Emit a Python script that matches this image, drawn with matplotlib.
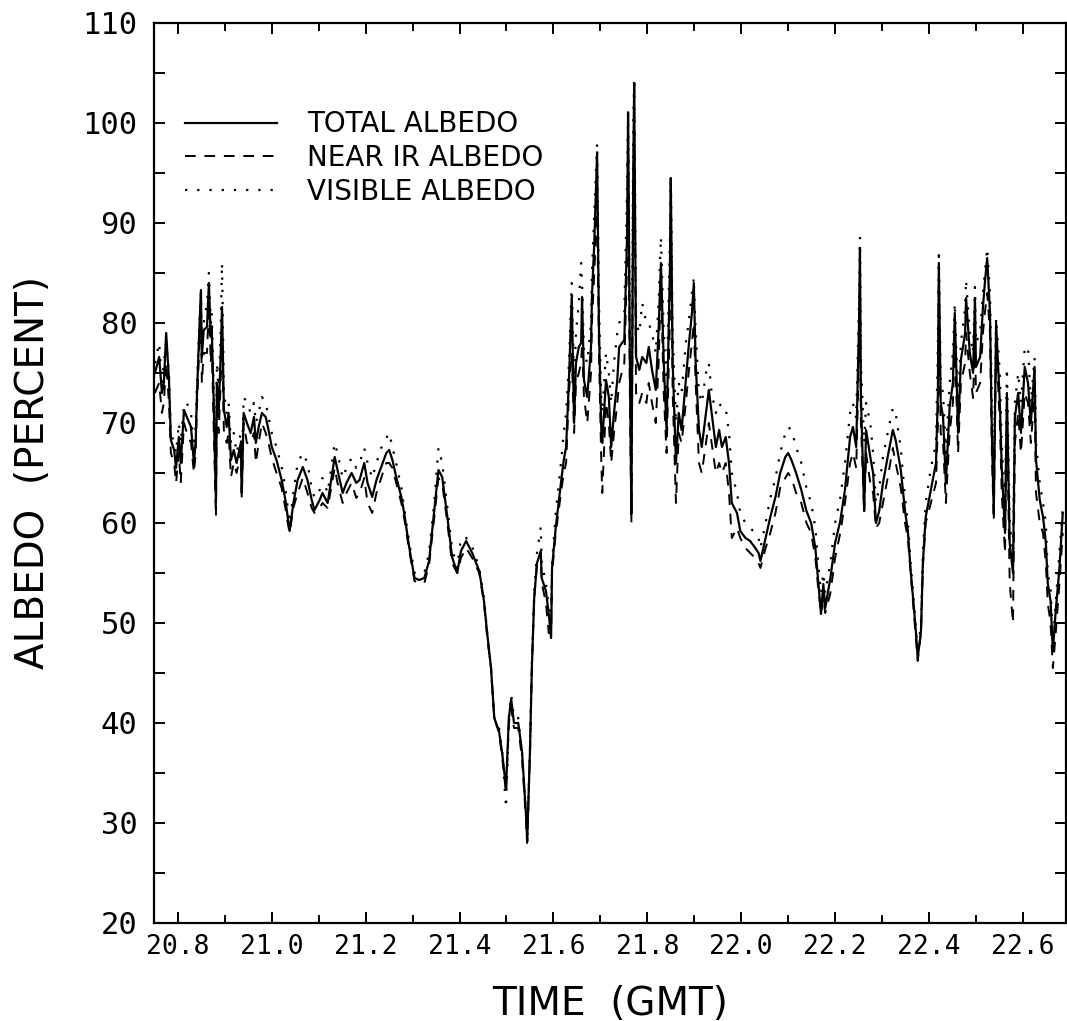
import matplotlib
matplotlib.use("Agg")
import matplotlib.pyplot as plt
from matplotlib.ticker import MultipleLocator, FormatStrFormatter

# Time (GMT, decimal hours) and albedo (percent) along the flight track
time_gmt = [
    20.751, 20.760, 20.766, 20.770, 20.775, 20.781, 20.785, 20.792, 20.796, 20.802,
    20.806, 20.813, 20.819, 20.828, 20.834, 20.838, 20.840, 20.845, 20.849, 20.851,
    20.855, 20.862, 20.866, 20.870, 20.872, 20.876, 20.881, 20.883, 20.887, 20.891,
    20.894, 20.898, 20.904, 20.908, 20.913, 20.919, 20.925, 20.934, 20.936, 20.940,
    20.947, 20.955, 20.962, 20.966, 20.972, 20.979, 20.987, 20.993, 21.000, 21.010,
    21.021, 21.029, 21.034, 21.038, 21.046, 21.055, 21.066, 21.076, 21.085, 21.091,
    21.102, 21.108, 21.119, 21.134, 21.140, 21.151, 21.159, 21.170, 21.180, 21.187,
    21.197, 21.204, 21.214, 21.223, 21.233, 21.244, 21.250, 21.257, 21.265, 21.276,
    21.282, 21.293, 21.304, 21.314, 21.325, 21.335, 21.346, 21.355, 21.363, 21.374,
    21.384, 21.395, 21.403, 21.414, 21.427, 21.442, 21.452, 21.459, 21.467, 21.474,
    21.484, 21.491, 21.499, 21.505, 21.510, 21.516, 21.525, 21.533, 21.542, 21.544,
    21.550, 21.554, 21.559, 21.565, 21.573, 21.575, 21.584, 21.590, 21.595, 21.597,
    21.605, 21.616, 21.622, 21.627, 21.633, 21.639, 21.644, 21.648, 21.654, 21.659,
    21.661, 21.665, 21.672, 21.680, 21.682, 21.687, 21.693, 21.697, 21.702, 21.704,
    21.712, 21.718, 21.723, 21.729, 21.736, 21.740, 21.751, 21.757, 21.759, 21.763,
    21.766, 21.770, 21.772, 21.776, 21.783, 21.789, 21.798, 21.803, 21.810, 21.818,
    21.824, 21.829, 21.835, 21.841, 21.848, 21.850, 21.854, 21.861, 21.867, 21.873,
    21.882, 21.888, 21.895, 21.899, 21.903, 21.910, 21.916, 21.925, 21.931, 21.937,
    21.946, 21.953, 21.959, 21.967, 21.974, 21.980, 21.991, 21.998, 22.009, 22.019,
    22.030, 22.037, 22.041, 22.052, 22.062, 22.073, 22.083, 22.094, 22.100, 22.107,
    22.117, 22.128, 22.139, 22.149, 22.158, 22.164, 22.170, 22.175, 22.179, 22.190,
    22.200, 22.211, 22.221, 22.232, 22.238, 22.245, 22.251, 22.253, 22.255, 22.262,
    22.266, 22.275, 22.281, 22.287, 22.294, 22.302, 22.312, 22.323, 22.329, 22.340,
    22.349, 22.355, 22.361, 22.368, 22.372, 22.376, 22.383, 22.387, 22.393, 22.404,
    22.415, 22.419, 22.421, 22.425, 22.430, 22.436, 22.444, 22.451, 22.455, 22.462,
    22.468, 22.477, 22.479, 22.487, 22.494, 22.498, 22.500, 22.509, 22.515, 22.519,
    22.524, 22.530, 22.534, 22.538, 22.543, 22.551, 22.555, 22.562, 22.566, 22.572,
    22.579, 22.583, 22.590, 22.596, 22.604, 22.611, 22.617, 22.625, 22.628, 22.636,
    22.643, 22.649, 22.653, 22.659, 22.664, 22.670, 22.678, 22.685,
]

total_albedo = [
    75.0, 76.6, 73.0, 74.0, 79.0, 74.3, 68.3, 67.3, 65.5, 68.6,
    66.0, 71.3, 70.6, 69.6, 66.0, 68.3, 72.0, 78.6, 83.3, 76.6,
    79.3, 79.6, 84.0, 78.6, 79.6, 72.6, 62.0, 74.0, 71.3, 76.6,
    81.6, 71.3, 69.6, 71.0, 66.3, 67.3, 66.0, 68.0, 63.0, 71.0,
    70.0, 69.0, 70.6, 68.0, 69.6, 71.0, 70.6, 69.3, 67.6, 66.3,
    64.3, 62.3, 60.6, 59.2, 62.0, 64.3, 65.6, 64.3, 62.3, 61.3,
    62.3, 63.0, 62.0, 66.6, 65.3, 63.0, 64.0, 65.0, 64.0, 64.3,
    66.0, 64.0, 62.6, 64.3, 65.6, 67.0, 67.3, 66.3, 64.6, 62.6,
    61.0, 57.5, 54.5, 54.3, 54.5, 56.2, 61.2, 65.3, 64.6, 60.6,
    56.6, 55.0, 57.2, 58.2, 57.0, 55.2, 52.2, 48.9, 45.5, 40.5,
    39.2, 36.9, 33.5, 40.5, 42.4, 40.0, 40.0, 37.2, 30.5, 28.2,
    37.2, 45.5, 52.5, 56.0, 57.2, 54.5, 53.2, 50.9, 48.5, 55.5,
    59.6, 64.0, 66.3, 67.6, 74.3, 82.6, 70.0, 76.0, 77.6, 78.0,
    82.6, 74.3, 72.6, 77.6, 82.6, 88.0, 97.0, 79.3, 69.3, 68.0,
    74.3, 72.6, 67.6, 71.0, 74.3, 77.6, 78.3, 89.0, 101.0, 75.0,
    61.0, 95.0, 104.0, 76.6, 75.3, 76.6, 76.0, 77.6, 75.3, 73.3,
    79.3, 86.0, 76.0, 69.3, 85.0, 94.5, 76.0, 66.0, 71.0, 69.3,
    74.3, 77.6, 81.0, 84.0, 76.0, 69.3, 67.6, 71.0, 73.3, 71.0,
    67.6, 69.3, 67.6, 68.6, 66.0, 62.0, 61.0, 59.2, 58.5, 58.2,
    57.5, 57.0, 56.2, 58.5, 60.6, 62.6, 65.0, 66.6, 67.0, 66.3,
    65.0, 63.3, 61.2, 60.0, 57.5, 54.2, 50.9, 53.9, 51.5, 54.5,
    58.0, 60.2, 63.3, 68.6, 69.6, 67.6, 80.0, 87.5, 72.6, 61.2,
    69.3, 66.6, 65.0, 60.0, 61.2, 64.0, 66.6, 69.3, 68.3, 65.3,
    61.2, 59.2, 55.2, 51.5, 49.2, 46.5, 49.2, 56.0, 60.6, 63.3,
    66.0, 73.0, 86.0, 72.0, 70.6, 64.0, 71.6, 74.0, 81.0, 69.0,
    76.3, 79.0, 82.5, 77.0, 75.0, 82.5, 75.6, 76.6, 81.6, 84.0,
    86.5, 81.0, 69.0, 61.0, 80.0, 72.0, 65.6, 59.0, 73.0, 58.0,
    55.0, 70.6, 73.0, 69.0, 75.6, 74.0, 70.0, 75.6, 66.3, 62.3,
    60.6, 58.0, 54.0, 52.2, 47.2, 51.2, 55.5, 61.0,
]

near_ir_albedo = [
    73.0, 74.0, 71.0, 72.0, 76.0, 72.0, 67.0, 66.0, 64.0, 67.0,
    64.0, 70.0, 69.0, 68.0, 65.0, 67.0, 71.0, 77.0, 81.0, 74.0,
    77.0, 77.0, 82.0, 76.0, 78.0, 70.0, 60.6, 72.0, 69.0, 74.0,
    79.0, 69.0, 68.0, 69.0, 64.6, 66.0, 65.0, 67.0, 62.5, 70.0,
    68.0, 68.0, 69.0, 66.0, 68.0, 70.0, 69.0, 68.0, 66.5, 65.0,
    63.5, 61.5, 60.0, 59.0, 61.5, 63.0, 64.5, 63.0, 61.5, 61.0,
    61.5, 62.0, 61.5, 65.5, 64.0, 62.0, 63.0, 64.0, 62.5, 63.0,
    64.5, 62.0, 61.0, 63.0, 64.5, 66.0, 66.0, 65.5, 64.0, 62.0,
    60.5, 57.2, 54.2, 54.0, 54.0, 55.8, 60.5, 64.5, 64.0, 60.0,
    56.0, 55.0, 56.5, 57.5, 56.5, 55.0, 52.0, 48.5, 45.5, 40.5,
    39.0, 36.5, 33.0, 40.0, 41.5, 39.5, 39.5, 36.5, 30.0, 28.0,
    37.0, 45.5, 52.5, 56.0, 57.0, 54.0, 52.0, 49.0, 49.0, 55.0,
    59.0, 63.0, 65.0, 66.0, 73.0, 77.0, 69.0, 74.0, 75.0, 76.0,
    78.0, 72.6, 70.0, 75.0, 80.0, 85.0, 92.0, 77.0, 66.0, 63.0,
    72.0, 70.0, 66.0, 69.0, 72.0, 74.0, 76.0, 86.0, 99.0, 72.0,
    60.0, 92.0, 102.0, 73.0, 72.0, 73.0, 72.0, 74.0, 72.0, 70.0,
    76.0, 84.0, 73.0, 67.0, 80.0, 92.0, 73.0, 62.0, 69.0, 68.0,
    72.0, 75.0, 78.0, 80.0, 74.0, 66.0, 65.0, 68.0, 70.0, 68.0,
    65.0, 66.0, 65.0, 66.0, 63.0, 58.5, 59.5, 58.5, 57.5, 57.0,
    56.5, 56.0, 55.5, 57.5, 59.0, 61.0, 63.5, 64.5, 65.0, 64.5,
    63.0, 62.0, 60.0, 59.0, 56.5, 53.5, 51.0, 52.5, 51.0, 53.0,
    56.5, 59.0, 62.0, 66.0, 67.0, 65.5, 77.0, 85.0, 70.0, 61.0,
    67.0, 64.0, 63.0, 59.5, 60.0, 62.0, 64.5, 67.5, 66.0, 63.5,
    60.0, 58.5, 55.0, 51.0, 48.5, 46.2, 49.0, 55.5, 60.0, 62.0,
    64.0, 70.0, 84.0, 69.0, 68.0, 62.0, 69.0, 72.0, 78.0, 67.0,
    74.0, 76.0, 79.0, 75.0, 72.5, 79.0, 73.0, 74.0, 79.0, 81.0,
    83.0, 79.0, 67.0, 60.2, 78.0, 70.0, 63.0, 57.0, 71.0, 54.0,
    50.0, 68.0, 71.0, 67.0, 73.0, 72.0, 68.0, 73.0, 63.0, 60.0,
    59.0, 56.0, 52.0, 50.0, 45.5, 49.0, 54.0, 59.0,
]

visible_albedo = [
    76.0, 78.0, 74.0, 76.0, 78.0, 75.0, 69.0, 68.0, 67.0, 70.0,
    68.0, 72.0, 72.0, 71.0, 67.0, 70.0, 73.0, 79.0, 83.0, 78.0,
    80.0, 82.0, 85.0, 80.0, 81.0, 74.0, 64.0, 76.0, 73.0, 79.0,
    86.0, 73.0, 71.0, 72.0, 68.0, 69.0, 67.0, 69.0, 65.0, 72.6,
    72.0, 71.0, 72.0, 70.0, 71.0, 72.6, 72.0, 70.6, 69.0, 67.6,
    65.6, 63.5, 61.5, 60.0, 63.0, 66.0, 67.0, 66.0, 63.5, 62.5,
    63.3, 64.5, 63.0, 68.0, 67.0, 64.5, 65.5, 66.5, 65.5, 66.0,
    67.5, 66.0, 64.5, 66.0, 67.5, 68.5, 69.0, 67.6, 66.0, 63.5,
    61.5, 58.0, 55.0, 55.0, 55.0, 57.0, 62.0, 67.5, 66.0, 61.5,
    57.5, 55.5, 58.5, 58.5, 57.6, 55.5, 52.5, 49.0, 45.5, 40.5,
    39.5, 37.0, 31.5, 40.5, 42.8, 40.5, 40.5, 37.0, 30.5, 28.0,
    37.5, 46.0, 53.0, 57.0, 59.6, 56.0, 54.0, 51.5, 50.0, 56.0,
    61.0, 66.0, 69.0, 71.0, 76.0, 84.0, 74.0, 79.0, 82.0, 86.0,
    84.0, 77.0, 76.0, 80.0, 85.0, 91.0, 98.0, 82.0, 72.0, 71.0,
    77.0, 75.0, 72.0, 76.0, 79.0, 80.0, 81.0, 94.0, 101.5, 78.0,
    64.0, 100.0, 104.5, 80.0, 79.0, 82.0, 80.0, 80.0, 79.0, 77.0,
    82.0, 88.6, 79.0, 73.0, 88.0, 94.8, 79.0, 70.0, 74.0, 73.0,
    78.0, 80.0, 83.0, 84.5, 79.0, 73.0, 72.0, 75.0, 76.0, 73.0,
    71.0, 72.0, 71.5, 71.5, 69.0, 65.0, 63.0, 61.0, 60.0, 59.5,
    59.0, 58.5, 57.5, 60.0, 62.5, 64.5, 67.0, 69.0, 69.6, 69.3,
    67.6, 66.0, 63.5, 62.0, 59.5, 56.0, 53.0, 55.0, 53.0, 56.0,
    60.0, 62.5, 66.0, 71.0, 72.0, 70.5, 82.0, 88.6, 76.0, 68.0,
    72.0, 70.0, 67.0, 62.0, 63.5, 66.6, 69.0, 71.5, 71.0, 67.5,
    62.5, 60.0, 56.0, 52.0, 49.5, 47.0, 50.0, 57.0, 62.0, 65.5,
    68.0, 78.0, 87.3, 74.0, 73.0, 67.0, 74.0, 77.0, 82.0, 72.0,
    78.0, 81.5, 84.3, 79.0, 77.0, 83.6, 78.0, 79.0, 83.0, 85.0,
    87.5, 83.0, 72.0, 64.0, 80.5, 75.0, 68.0, 62.0, 75.5, 60.0,
    57.0, 72.0, 75.0, 72.0, 77.5, 77.6, 72.0, 76.5, 68.0, 64.0,
    62.0, 60.0, 55.0, 53.5, 48.0, 52.0, 57.0, 61.5,
]

series_labels = ["TOTAL ALBEDO", "NEAR IR ALBEDO", "VISIBLE ALBEDO"]
x_ticks = [20.8, 21.0, 21.2, 21.4, 21.6, 21.8, 22.0, 22.2, 22.4, 22.6]
y_ticks = [20, 30, 40, 50, 60, 70, 80, 90, 100, 110]

fig = plt.figure(figsize=(10.67, 10.21), dpi=100)
ax = fig.add_axes([0.1443, 0.096, 0.8548, 0.8815])

ax.plot(time_gmt, total_albedo, color="black", lw=1.6, ls="-",
        label=series_labels[0])
ax.plot(time_gmt, near_ir_albedo, color="black", lw=1.4,
        ls=(0, (5.5, 4.5)), label=series_labels[1])
ax.plot(time_gmt, visible_albedo, color="black", lw=1.6,
        ls=(0, (1, 4.5)), label=series_labels[2])

ax.set_xlim(20.749, 22.692)
ax.set_ylim(20, 110)

ax.set_xticks(x_ticks)
ax.set_yticks(y_ticks)
ax.xaxis.set_major_formatter(FormatStrFormatter("%.1f"))
ax.xaxis.set_minor_locator(MultipleLocator(0.1))
ax.yaxis.set_minor_locator(MultipleLocator(5))

for side in ax.spines.values():
    side.set_linewidth(1.6)

ax.tick_params(which="both", direction="in", top=True, right=True,
               width=1.4, color="black")
ax.tick_params(which="major", length=8)
ax.tick_params(which="minor", length=6)
ax.tick_params(axis="y", which="minor", length=8)
ax.tick_params(axis="x", which="major", pad=8)
ax.tick_params(axis="y", which="major", pad=12)

for lbl in ax.get_xticklabels():
    lbl.set_fontfamily("DejaVu Sans Mono")
    lbl.set_fontsize(19)
for lbl in ax.get_yticklabels():
    lbl.set_fontfamily("DejaVu Sans Mono")
    lbl.set_fontsize(22)

ax.set_xlabel("TIME  (GMT)", fontsize=28, family="DejaVu Sans", labelpad=18)
ax.set_ylabel("ALBEDO  (PERCENT)", fontsize=28, family="DejaVu Sans",
              labelpad=22)

leg = ax.legend(loc="center left", bbox_to_anchor=(0.034, 0.85),
                frameon=False, fontsize=20, handlelength=3.3,
                handletextpad=1.1, labelspacing=0.2, borderpad=0,
                borderaxespad=0)

fig.savefig("out.png", dpi=100, facecolor="white")
